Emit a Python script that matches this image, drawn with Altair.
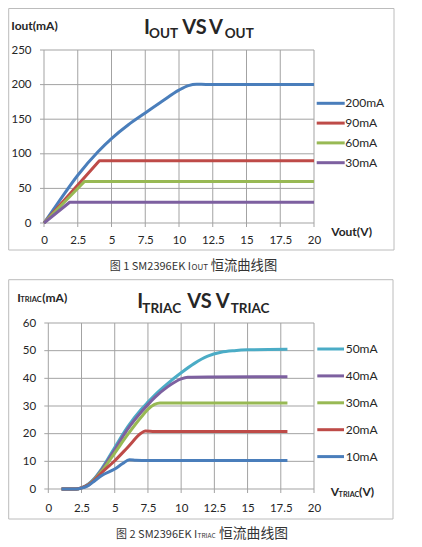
import altair as alt
import pandas as pd

FONT = "Lato"
CJK = "Noto Sans CJK SC"
TXT = "#262626"
GRID = "#a3a3a3"
FRAME = "#bcbcbc"

# ---------------- chart 1 : I_OUT vs V_OUT ----------------
top_names = ["200mA", "90mA", "60mA", "30mA"]
top_colors = ["#4A7EBB", "#BE4B48", "#98B954", "#7D60A0"]
top_v = {
    "200mA": [0, 1, 2.5, 4, 5, 6.25, 7.5, 8.75, 10, 10.7, 11.3, 12, 20],
    "90mA": [0, 4.1, 20],
    "60mA": [0, 3.0, 20],
    "30mA": [0, 1.9, 20],
}
top_i = {
    "200mA": [0, 28, 69, 103, 122, 142, 159, 176, 192, 198.5, 200.5, 200.2, 200],
    "90mA": [0, 90, 90],
    "60mA": [0, 60, 60],
    "30mA": [0, 30, 30],
}
top_interp = {"200mA": "monotone", "90mA": "linear", "60mA": "linear", "30mA": "linear"}
top_xticks = [0, 2.5, 5, 7.5, 10, 12.5, 15, 17.5, 20]
top_yticks = [0, 50, 100, 150, 200, 250]

# ---------------- chart 2 : I_TRIAC vs V_TRIAC ----------------
bot_names = ["50mA", "40mA", "30mA", "20mA", "10mA"]
bot_colors = ["#4BACC6", "#7D60A0", "#98B954", "#BE4B48", "#4A7EBB"]
bot_v = {
    "50mA": [1, 2.1, 2.5, 3, 3.5, 4, 5, 6, 7, 7.5, 8, 9, 10, 11, 12, 13, 14, 15, 18],
    "40mA": [1, 2.1, 2.5, 3, 3.5, 4, 5, 6, 7, 7.5, 8, 9, 10, 10.5, 12, 18],
    "30mA": [1, 2.1, 2.5, 3, 3.5, 4, 5, 6, 7, 7.5, 8, 8.4, 9, 18],
    "20mA": [1, 2.1, 2.5, 3, 3.5, 4, 5, 6, 7, 7.3, 8, 18],
    "10mA": [1, 2.1, 2.5, 3, 3.5, 4, 5, 5.6, 6.1, 6.6, 7.5, 18],
}
bot_i = {
    "50mA": [0, 0, 0.4, 1.7, 4, 7.2, 15, 22.6, 28.8, 31.4, 33.9, 38.2, 42, 45.4, 48, 49.4, 50, 50.3, 50.5],
    "40mA": [0, 0, 0.4, 1.6, 3.8, 6.8, 14.2, 21.8, 27.8, 30.5, 33, 37, 39.8, 40.4, 40.5, 40.6],
    "30mA": [0, 0, 0.4, 1.5, 3.6, 6.3, 13, 19.8, 26, 28.8, 30.6, 31.1, 31.1, 31.1],
    "20mA": [0, 0, 0.4, 1.4, 3.4, 5.8, 10.2, 15.2, 20.2, 21, 20.8, 20.8],
    "10mA": [0, 0, 0.3, 1.2, 3, 4.8, 7.2, 9.2, 10.6, 10.4, 10.3, 10.3],
}
bot_interp = {n: "monotone" for n in bot_names}
bot_xticks = [0, 2.5, 5, 7.5, 10, 12.5, 15, 17.5, 20]
bot_yticks = [0, 10, 20, 30, 40, 50, 60]


def one():
    return pd.DataFrame({"k": [0]})


def text_piece(t, x, y, size, weight="normal", align="left", font=FONT, color=TXT,
               baseline="alphabetic"):
    return alt.Chart(pd.DataFrame({"t": [t]})).mark_text(
        align=align, baseline=baseline, font=font, fontSize=size,
        fontWeight=weight, color=color
    ).encode(x=alt.value(x), y=alt.value(y), text="t:N")


def panel(names, colors, vs, is_, interp, xdom, ydom, xticks, yticks, W, H,
          ylab_pad, xlab_pad, frame, pieces, leg, tick_px=4):
    xs = alt.Scale(domain=xdom, nice=False, zero=False)
    ys = alt.Scale(domain=ydom, nice=False, zero=False)
    px_x = W / (xdom[1] - xdom[0])
    px_y = H / (ydom[1] - ydom[0])

    common = dict(title=None, grid=False, ticks=False, tickSize=0, domain=False,
                  labelFlush=False, labelOverlap=False, labelFont=FONT,
                  labelFontSize=11.5, labelColor=TXT, zindex=2,
                  labelExpr="'' + datum.value")
    xaxis = alt.Axis(values=xticks, labelPadding=xlab_pad, **common)
    yaxis = alt.Axis(values=yticks, labelPadding=ylab_pad, **common)

    layers = []
    fx1, fx2, fy1, fy2 = frame
    layers.append(alt.Chart(one()).mark_rect(
        fill="white", fillOpacity=0, stroke=FRAME, strokeWidth=1
    ).encode(x=alt.value(fx1), x2=alt.value(fx2), y=alt.value(fy1), y2=alt.value(fy2)))

    vgrid = pd.DataFrame({"gx": xticks})
    vgrid["gy1"] = ydom[0] - tick_px / px_y
    vgrid["gy2"] = ydom[1]
    layers.append(alt.Chart(vgrid).mark_rule(color=GRID, strokeWidth=1).encode(
        x=alt.X("gx:Q", scale=xs, axis=xaxis),
        y=alt.Y("gy1:Q", scale=ys, axis=yaxis),
        y2="gy2:Q"))

    hgrid = pd.DataFrame({"gy": yticks})
    hgrid["gx1"] = xticks[0] - tick_px / px_x
    hgrid["gx2"] = xticks[-1]
    layers.append(alt.Chart(hgrid).mark_rule(color=GRID, strokeWidth=1).encode(
        y=alt.Y("gy:Q", scale=ys, axis=yaxis),
        x=alt.X("gx1:Q", scale=xs, axis=xaxis),
        x2="gx2:Q"))

    for k, (n, c) in enumerate(zip(names, colors)):
        df = pd.DataFrame({"v": vs[n], "i": is_[n]})
        df["o"] = range(len(df))
        layers.append(alt.Chart(df).mark_line(
            interpolate=interp[n], strokeWidth=3, color=c, strokeJoin="round", strokeCap="butt"
        ).encode(
            x=alt.X("v:Q", scale=xs, axis=xaxis),
            y=alt.Y("i:Q", scale=ys, axis=yaxis),
            order="o:Q"))

    lx1, lx2, ltx, ly0, ldy = leg
    for k, (n, c) in enumerate(zip(names, colors)):
        yy = ly0 + k * ldy
        layers.append(alt.Chart(one()).mark_rule(color=c, strokeWidth=3).encode(
            x=alt.value(lx1), x2=alt.value(lx2), y=alt.value(yy)))
        layers.append(text_piece(n, ltx, yy, 12, baseline="middle"))

    for p in pieces:
        layers.append(text_piece(*p))

    return alt.layer(*layers).properties(width=W, height=H)


top_pieces = [
    # title
    ("I", 100, -16, 20, "bold"),
    ("OUT", 105, -12.3, 13.5, "bold"),
    ("VS", 138.3, -16, 20, "bold"),
    ("V", 165, -16, 20, "bold"),
    ("OUT", 180.7, -12.3, 13.5, "bold"),
    # axis titles
    ("Iout(mA)", -32.7, -20.5, 12, "bold"),
    ("Vout(V)", 287.3, 186, 12, "bold"),
    # caption
    ("图 1 SM2396EK I", 147, 220, 11, "normal", "right", CJK, "#333333"),
    ("OUT", 147.5, 220, 8, "normal", "left", CJK, "#333333"),
    ("恒流曲线图", 166.7, 220, 13.3, "normal", "left", CJK, "#333333"),
]

bot_pieces = [
    ("I", 93.3, -15, 20, "bold"),
    ("TRIAC", 98.3, -10, 13.5, "bold"),
    ("VS", 143.3, -15, 20, "bold"),
    ("V", 171.7, -15, 20, "bold"),
    ("TRIAC", 186.7, -10, 13.5, "bold"),
    ("I", -26.7, -21.3, 12, "bold"),
    ("TRIAC", -23.8, -20.8, 7.5, "bold"),
    ("(mA)", -1.7, -21.3, 12, "bold"),
    ("V", 286.7, 172.7, 12, "bold"),
    ("TRIAC", 294.6, 174.2, 7.2, "bold"),
    ("(V)", 315, 172.7, 12, "bold"),
    ("图 2 SM2396EK I", 153.3, 214.7, 11, "normal", "right", CJK, "#333333"),
    ("TRIAC", 153.6, 214.7, 6.5, "normal", "left", CJK, "#333333"),
    ("恒流曲线图", 175, 214.7, 13.8, "normal", "left", CJK, "#333333"),
]

W = 270
top = panel(top_names, top_colors, top_v, top_i, top_interp,
            [0, 20], [0, 250], top_xticks, top_yticks, W, 173,
            ylab_pad=13, xlab_pad=11,
            frame=(-35.3, 350, -41.5, 200),
            pieces=top_pieces,
            leg=(272.7, 300.7, 301.3, 53.3, 19.8))

x0 = -20 * 4.3 / 265.7
bottom = panel(bot_names, bot_colors, bot_v, bot_i, bot_interp,
               [x0, 20], [0, 60], bot_xticks, bot_yticks, W, 166,
               ylab_pad=8.3, xlab_pad=13,
               frame=(-35.3, 349, -43.3, 196),
               pieces=bot_pieces,
               leg=(273.3, 300, 301.7, 26, 26.9))

chart = alt.vconcat(top, bottom, spacing=100, bounds="flush").configure_view(
    strokeWidth=0
).properties(padding=0, background="white")

chart.save("out.html", embed_options={"renderer": "svg", "actions": False})
